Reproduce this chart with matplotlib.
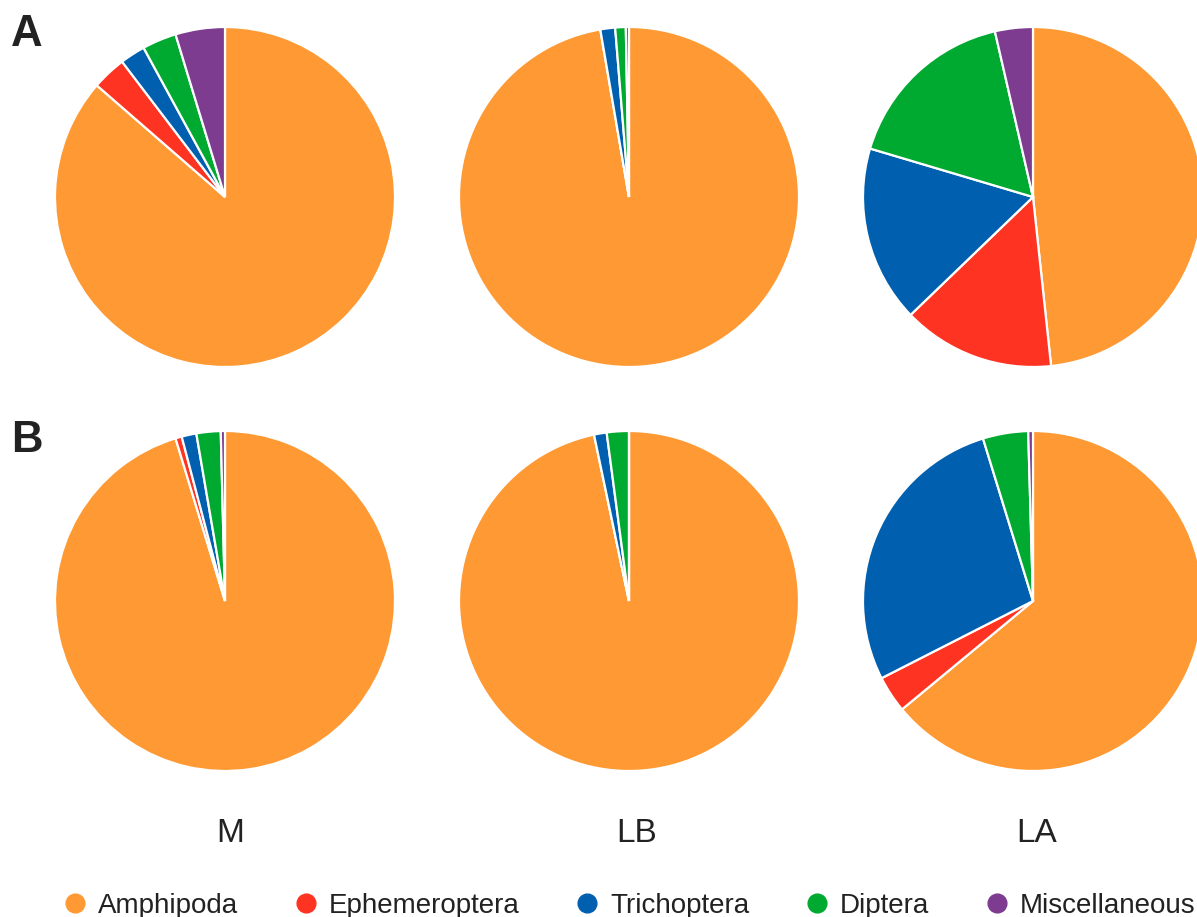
import matplotlib
matplotlib.use("Agg")
import matplotlib.pyplot as plt
from matplotlib.lines import Line2D

# Diet composition (% of total) per site and season
categories = ["Amphipoda", "Ephemeroptera", "Trichoptera", "Diptera", "Miscellaneous"]
colors = ["#FE9933", "#FF3322", "#005FAF", "#00AA30", "#7D3C8F"]
sites = ["M", "LB", "LA"]
panels = ["A", "B"]

A_M = [86.4, 3.25, 2.4, 3.25, 4.7]
A_LB = [97.3, 0.0, 1.4, 1.0, 0.3]
A_LA = [48.3, 14.5, 16.8, 16.8, 3.6]
B_M = [95.3, 0.6, 1.4, 2.3, 0.4]
B_LB = [96.7, 0.0, 1.2, 2.1, 0.0]
B_LA = [64.0, 3.5, 27.75, 4.3, 0.45]

rows = [[A_M, A_LB, A_LA], [B_M, B_LB, B_LA]]

W, H = 1197, 917
fig = plt.figure(figsize=(W / 100, H / 100), dpi=100)
fig.patch.set_facecolor("white")

font = "Liberation Sans"
text_color = "#222222"

col_x = [225, 629, 1033]
row_y = [197, 601]
R = 170

for r, row in enumerate(rows):
    for c, vals in enumerate(row):
        cx, cy = col_x[c], row_y[r]
        ax = fig.add_axes([(cx - R) / W, (H - cy - R) / H, 2 * R / W, 2 * R / H])
        ax.pie(vals, colors=colors, startangle=90, counterclock=False,
               radius=1.0, wedgeprops=dict(edgecolor="white", linewidth=1.6))
        ax.set_xlim(-1, 1)
        ax.set_ylim(-1, 1)
        ax.set_aspect("equal")
        ax.axis("off")

# Panel letters
for label, y in zip(panels, [35, 440]):
    fig.text(27 / W, 1 - y / H, label, fontsize=31.5, fontweight="bold",
             family=font, color=text_color, ha="center", va="center")

# Site labels
for label, x in zip(sites, [230.5, 636.5, 1036.5]):
    fig.text(x / W, 1 - 833 / H, label, fontsize=24, family=font,
             color=text_color, ha="center", va="center")

# Legend
handles = [Line2D([], [], marker="o", linestyle="none", markersize=13.5,
                  markerfacecolor=col, markeredgecolor=col) for col in colors]
leg = fig.legend(handles, categories, ncol=5, loc="center left",
                 bbox_to_anchor=(63.6 / W, 11 / H), frameon=False,
                 borderpad=0, borderaxespad=0, handlelength=0.8,
                 handletextpad=0.42, columnspacing=2.05,
                 prop={"family": font, "size": 20})
for t in leg.get_texts():
    t.set_color(text_color)

fig.savefig("out.png", dpi=100, facecolor="white")
